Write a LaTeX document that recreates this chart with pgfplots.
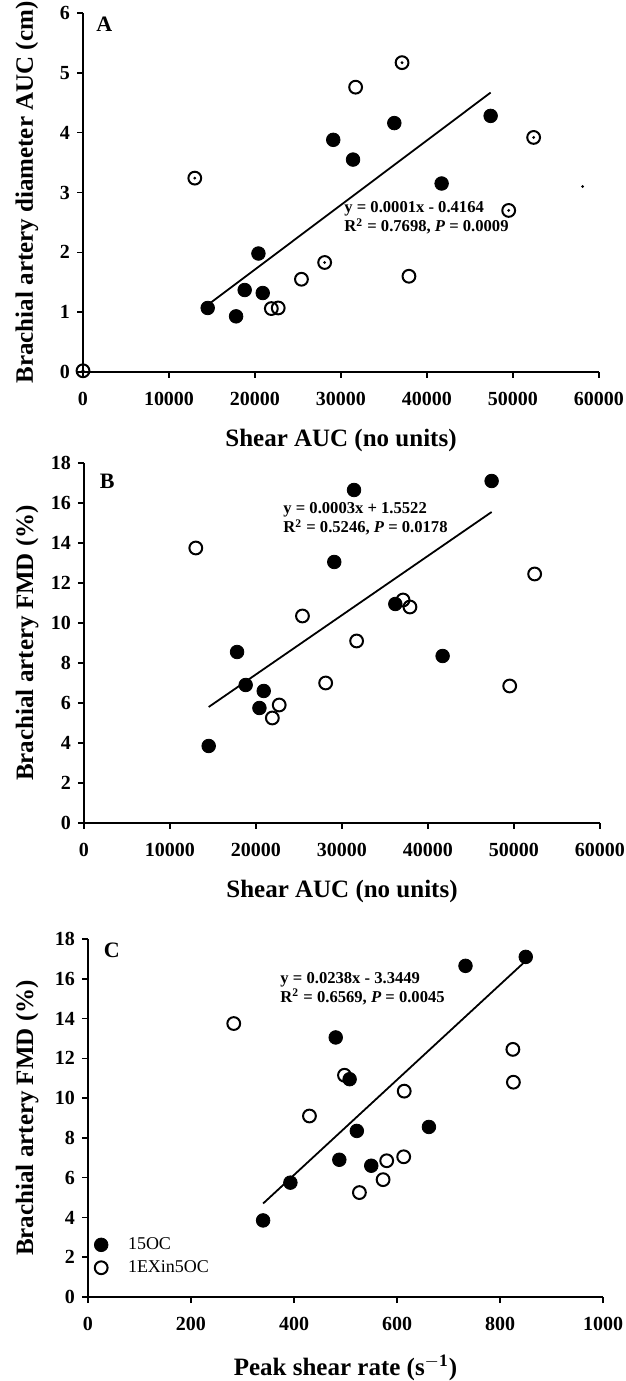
\documentclass[border=0pt]{standalone}
\usepackage{fontspec}
\setmainfont{Liberation Serif}
\usepackage{pgfplots}
\pgfplotsset{compat=1.18}
\pgfplotsset{
  panel/.style={
    scale only axis,
    anchor=south west,
    axis lines=left,
    axis line style={-, line width=1pt},
    tick align=outside,
    major tick length=3pt,
    tick style={line width=0.8pt, black},
    clip=false,
    /pgf/number format/assume math mode=true,
    tick label style={font=\bfseries\fontsize{10}{12}\selectfont},
    x tick label style={yshift=-3.5pt},
    label style={font=\bfseries\fontsize{12.5}{15}\selectfont},
    scaled x ticks=false,
    xticklabel style={/pgf/number format/1000 sep={}},
  },
  filled/.style={only marks, mark=*, mark size=3.4pt, black},
  open/.style={only marks, mark=o, mark size=3.2pt, mark options={line width=1pt, fill=white, draw=black}},
  dots/.style={only marks, mark=*, mark size=0.5pt, black},
  reg/.style={no marks, line width=0.9pt, black},
}
\tikzset{
  eqn/.style={anchor=west, align=left, inner sep=0pt, font=\bfseries\fontsize{8.3}{6.8}\selectfont},
  plab/.style={anchor=north west, inner sep=0pt, font=\bfseries\fontsize{11}{13}\selectfont},
}
\begin{document}
\begin{tikzpicture}
\path[use as bounding box] (0,0) rectangle (313pt,690.5pt);
% ---------------- Panel A
\begin{axis}[panel, at={(41.5pt,504.5pt)}, width=258pt, height=179.5pt,
  xmin=0, xmax=60000, ymin=0, ymax=6,
  xtick={0,10000,...,60000}, ytick={0,1,...,6},
  xlabel={Shear AUC (no units)},
  ylabel={Brachial artery diameter AUC (cm)},
  xlabel style={at={(axis description cs:0.5,-0.19)}, anchor=center},
  ylabel style={at={(axis description cs:-0.1085,0.5)}, anchor=center},
]
\addplot[reg] coordinates {(14500,1.12) (47400,4.67)};
\addplot[filled] coordinates {(14500,1.07) (17800,0.93) (18800,1.37) (20400,1.98) (20900,1.32) (29100,3.88) (31400,3.55) (36200,4.16) (41700,3.15) (47400,4.28)};
\addplot[open] coordinates {(0,0.02) (13000,3.24) (21900,1.06) (22700,1.07) (25400,1.55) (28100,1.83) (31700,4.76) (37100,5.17) (37900,1.6) (49500,2.7) (52400,3.92)};
\addplot[dots] coordinates {(0,0.02) (13000,3.24) (28100,1.83) (37100,5.17) (49500,2.7) (52400,3.92) (58100,3.1)};
\node[eqn] at (axis cs:30350,2.57) {y = 0.0001x - 0.4164\\R$^{\mathbf{2}}$ = 0.7698, \textit{P} = 0.0009};
\node[plab] at (rel axis cs:0.025,0.99) {A};
\end{axis}
% ---------------- Panel B
\begin{axis}[panel, at={(42pt,279pt)}, width=258pt, height=180pt,
  xmin=0, xmax=60000, ymin=0, ymax=18,
  xtick={0,10000,...,60000}, ytick={0,2,...,18},
  xlabel={Shear AUC (no units)},
  ylabel={Brachial artery FMD (\%)},
  xlabel style={at={(axis description cs:0.5,-0.19)}, anchor=center},
  ylabel style={at={(axis description cs:-0.11,0.5)}, anchor=center},
]
\addplot[reg] coordinates {(14500,5.8) (47400,15.55)};
\addplot[filled] coordinates {(14500,3.85) (17800,8.55) (18800,6.9) (20400,5.75) (20900,6.6) (29100,13.05) (31400,16.65) (36200,10.95) (41700,8.35) (47400,17.1)};
\addplot[open] coordinates {(13000,13.75) (21900,5.25) (22700,5.9) (25400,10.35) (28100,7.0) (31700,9.1) (37100,11.15) (37900,10.8) (49500,6.85) (52400,12.45)};
\node[eqn] at (axis cs:23140,15.2) {y = 0.0003x + 1.5522\\R$^{\mathbf{2}}$ = 0.5246, \textit{P} = 0.0178};
\node[plab] at (rel axis cs:0.03,0.97) {B};
\end{axis}
% ---------------- Panel C
\begin{axis}[panel, at={(44pt,42pt)}, width=257.5pt, height=179pt,
  xmin=0, xmax=1000, ymin=0, ymax=18,
  xtick={0,200,...,1000}, ytick={0,2,...,18},
  xlabel={Peak shear rate (s$^{\mathbf{-1}}$)},
  ylabel={Brachial artery FMD (\%)},
  xlabel style={at={(axis description cs:0.5,-0.198)}, anchor=center},
  ylabel style={at={(axis description cs:-0.118,0.5)}, anchor=center},
  legend style={draw=none, fill=none, at={(rel axis cs:0.0,0.19)}, anchor=north west,
    font=\fontsize{9}{11}\selectfont, row sep=0pt},
  legend cell align=left,
]
\addplot[reg, forget plot] coordinates {(340,4.7) (850,16.9)};
\addplot[filled] coordinates {(340,3.85) (393,5.75) (481,13.05) (488,6.9) (508,10.95) (522,8.35) (550,6.6) (662,8.55) (733,16.65) (850,17.1)};
\addlegendentry{\hspace*{8pt}15OC}
\addplot[open] coordinates {(283,13.75) (430,9.1) (498,11.15) (527,5.25) (573,5.9) (580,6.85) (614,10.35) (613,7.05) (825,12.45) (826,10.8)};
\addlegendentry{\hspace*{8pt}1EXin5OC}
\node[eqn] at (axis cs:373,15.5) {y = 0.0238x - 3.3449\\R$^{\mathbf{2}}$ = 0.6569, \textit{P} = 0.0045};
\node[plab] at (rel axis cs:0.03,0.99) {C};
\end{axis}
\end{tikzpicture}
\end{document}
